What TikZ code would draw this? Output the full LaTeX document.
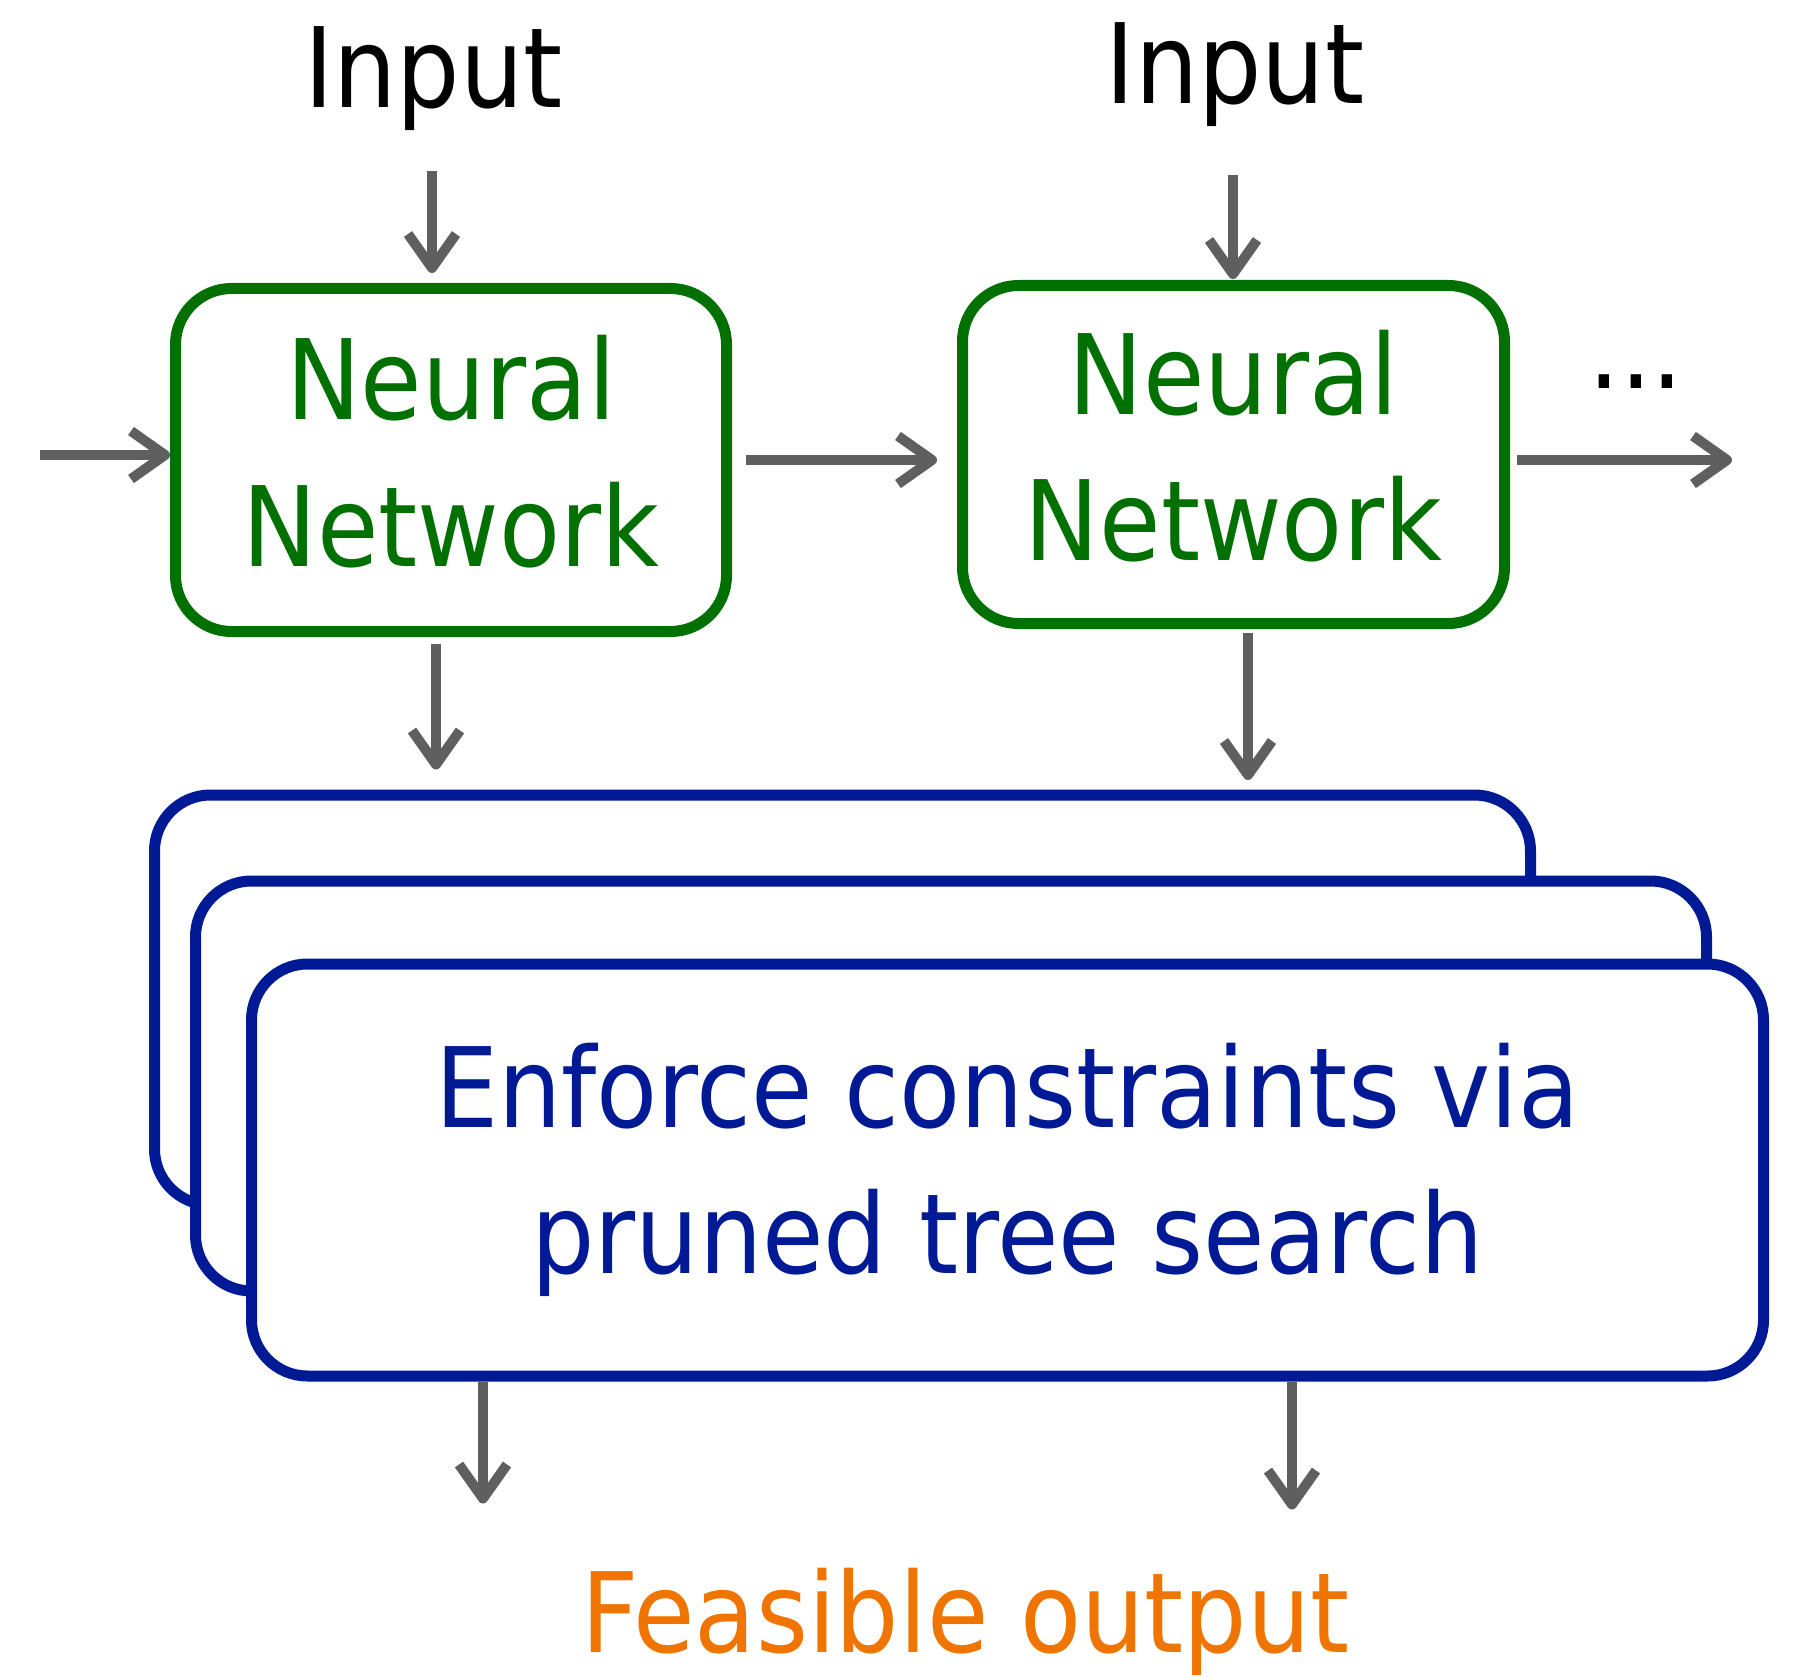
\documentclass[tikz,border=0pt]{standalone}
\usepackage{fontspec}
\setmainfont{DejaVu Sans}[FakeStretch=0.9]
\usetikzlibrary{arrows.meta,calc}
\definecolor{nngreen}{RGB}{0,112,0}
\definecolor{csblue}{RGB}{0,26,150}
\definecolor{outorange}{RGB}{240,116,0}
\definecolor{arrgray}{RGB}{95,95,95}

\begin{document}
\begin{tikzpicture}[x=0.5pt,y=-0.5pt,
  font=\fontsize{55.5}{73.25}\selectfont,
  nnbox/.style={draw=nngreen, text=nngreen, line width=5.5pt, rounded corners=28pt,
    fill=white, align=center, inner sep=0pt, text depth=9pt},
  csbox/.style={draw=csblue, text=csblue, line width=5.5pt, rounded corners=28pt,
    fill=white, align=center, inner sep=0pt},
  arr/.style={draw=arrgray, line width=5pt,
    -{Straight Barb[length=17pt,width=24pt,line join=round]}},
  lbl/.style={inner sep=0pt, anchor=base}
]
\useasboundingbox (0,0) rectangle (1794,1680);

% inputs and network stages
\node[lbl] (in1) at (433.5,108) {Input};
\node[lbl] (in2) at (1235,104) {Input};
\node[nnbox, minimum width=275.5pt, minimum height=171.5pt] (nn1) at (451,460) {Neural\\Network};
\node[nnbox, minimum width=271pt, minimum height=169pt] (nn2) at (1233.5,454.5) {Neural\\Network};
\node[lbl] (dots) at (1636,388) {...};

% stacked search boxes, back to front
\node[csbox, minimum width=688pt, minimum height=205pt] (a) at (842.5,1000) {};
\node[csbox, minimum width=755.5pt, minimum height=205pt] (b) at (951,1086) {};
\node[csbox, minimum width=756pt, minimum height=206pt] (c) at (1007.5,1170)
  {Enforce constraints via\\pruned tree search};

\node[lbl, text=outorange] (out) at (965.5,1652) {Feasible output};

% connectors
\coordinate (src) at (40,455);
\coordinate (cont) at (1732,460);

\draw[arr] (src) -- (nn1.west |- src);
\draw[arr] ($(in1.base)+(-1.5,63)$) -- ($(in1.base |- nn1.north)+(-1.5,-10)$);
\draw[arr] ($(in2.base)+(-2,71)$) -- ($(in2.base |- nn2.north)+(-2,-1)$);
\draw[arr] ($(nn1.east)+(14,0)$) -- ($(nn2.west |- nn1.east)+(-20,0)$);
\draw[arr] ($(nn2.east |- cont)+(7,0)$) -- (cont);

\draw[arr] ($(nn1.south)+(-15,7)$) -- ($(nn1.south |- a.north)+(-15,-20)$);
\draw[arr] ($(nn2.south)+(14.5,4)$) -- ($(nn2.south |- a.north)+(14.5,-9.5)$);

\draw[arr] ($(c.south)+(-524.5,0)$) -- ($(c.south)+(-524.5,122)$);
\draw[arr] ($(c.south)+(284.5,0)$) -- ($(c.south)+(284.5,128)$);
\end{tikzpicture}
\end{document}
